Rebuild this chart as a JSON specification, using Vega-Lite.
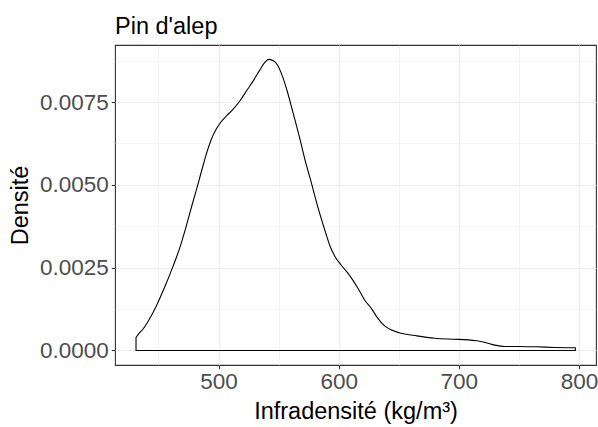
{
  "$schema": "https://vega.github.io/schema/vega-lite/v6.json",
  "width": 481,
  "height": 320,
  "autosize": {"type": "none"},
  "padding": {"left": 115, "top": 45, "right": 2, "bottom": 62},
  "background": "white",
  "title": {
    "text": "Pin d'alep",
    "anchor": "start",
    "frame": "group",
    "font": "Liberation Sans",
    "fontSize": 23.5,
    "fontWeight": "normal",
    "color": "#000000",
    "baseline": "alphabetic",
    "offset": 11,
    "dy": 23
  },
  "config": {
    "view": {"stroke": "#333333", "strokeWidth": 1.1},
    "axis": {
      "domain": false,
      "tickColor": "#333333",
      "tickSize": 3.7,
      "tickWidth": 1.1,
      "labelColor": "#4d4d4d",
      "labelFont": "Liberation Sans",
      "labelFontSize": 22.5,
      "labelOverlap": false,
      "labelFlush": false,
      "labelBound": false,
      "titleFont": "Liberation Sans",
      "titleFontSize": 23.5,
      "titleFontWeight": "normal",
      "titleColor": "#000000",
      "gridColor": "#ebebeb"
    }
  },
  "data": {
    "values": [
      {"x": 431.3, "d": 0.00039},
      {"x": 434, "d": 0.00052},
      {"x": 437, "d": 0.00064},
      {"x": 442, "d": 0.00092},
      {"x": 448, "d": 0.00133},
      {"x": 455, "d": 0.00190},
      {"x": 462, "d": 0.00253},
      {"x": 468, "d": 0.00313},
      {"x": 473, "d": 0.00374},
      {"x": 478, "d": 0.00440},
      {"x": 483, "d": 0.00504},
      {"x": 487, "d": 0.00557},
      {"x": 490, "d": 0.00595},
      {"x": 494, "d": 0.00638},
      {"x": 498, "d": 0.00668},
      {"x": 502, "d": 0.00690},
      {"x": 507, "d": 0.00710},
      {"x": 512, "d": 0.00728},
      {"x": 518, "d": 0.00755},
      {"x": 524, "d": 0.00788},
      {"x": 529, "d": 0.00815},
      {"x": 534, "d": 0.00845},
      {"x": 538, "d": 0.00868},
      {"x": 542, "d": 0.00879},
      {"x": 546, "d": 0.00874},
      {"x": 549, "d": 0.00862},
      {"x": 553, "d": 0.00830},
      {"x": 557, "d": 0.00785},
      {"x": 562, "d": 0.00718},
      {"x": 568, "d": 0.00635},
      {"x": 572, "d": 0.00575},
      {"x": 577, "d": 0.00510},
      {"x": 581, "d": 0.00455},
      {"x": 585, "d": 0.00404},
      {"x": 589, "d": 0.00357},
      {"x": 593, "d": 0.00313},
      {"x": 597, "d": 0.00283},
      {"x": 602, "d": 0.00258},
      {"x": 608, "d": 0.00232},
      {"x": 616, "d": 0.00188},
      {"x": 622, "d": 0.00150},
      {"x": 627, "d": 0.00128},
      {"x": 632, "d": 0.00100},
      {"x": 638, "d": 0.00075},
      {"x": 645, "d": 0.00060},
      {"x": 652, "d": 0.00052},
      {"x": 665, "d": 0.00044},
      {"x": 680, "d": 0.00037},
      {"x": 695, "d": 0.00034},
      {"x": 708, "d": 0.00032},
      {"x": 715, "d": 0.00029},
      {"x": 722, "d": 0.00024},
      {"x": 730, "d": 0.00016},
      {"x": 738, "d": 0.00012},
      {"x": 750, "d": 0.00012},
      {"x": 764, "d": 0.00011},
      {"x": 780, "d": 0.00009},
      {"x": 797, "d": 0.00008}
    ]
  },
  "mark": {
    "type": "area",
    "interpolate": "monotone",
    "fill": "white",
    "fillOpacity": 0,
    "stroke": "#000000",
    "strokeWidth": 1.1
  },
  "encoding": {
    "x": {
      "field": "x",
      "type": "quantitative",
      "scale": {"domain": [413.8, 814.2], "nice": false, "zero": false},
      "axis": {
        "title": "Infradensité (kg/m³)",
        "values": [450, 500, 550, 600, 650, 700, 750, 800],
        "labelExpr": "datum.value % 100 == 0 ? datum.label : ''",
        "tickOpacity": {"condition": {"test": "datum.value % 100 == 0", "value": 1}, "value": 0},
        "gridWidth": {"condition": {"test": "datum.value % 100 == 0", "value": 1.1}, "value": 0.55},
        "labelPadding": 2,
        "titleBaseline": "alphabetic",
        "titleY": 53
      }
    },
    "y": {
      "field": "d",
      "type": "quantitative",
      "scale": {"domain": [-0.00044, 0.009225], "nice": false, "zero": false},
      "axis": {
        "title": "Densité",
        "values": [0, 0.00125, 0.0025, 0.00375, 0.005, 0.00625, 0.0075, 0.00875],
        "labelExpr": "round(datum.value*40000) % 100 == 0 ? format(datum.value, '.4f') : ''",
        "tickOpacity": {"condition": {"test": "round(datum.value*40000) % 100 == 0", "value": 1}, "value": 0},
        "gridWidth": {"condition": {"test": "round(datum.value*40000) % 100 == 0", "value": 1.1}, "value": 0.55},
        "labelPadding": 3,
        "titleAngle": -90,
        "titleBaseline": "alphabetic",
        "titleX": -88
      }
    },
    "y2": {"datum": 0}
  }
}
